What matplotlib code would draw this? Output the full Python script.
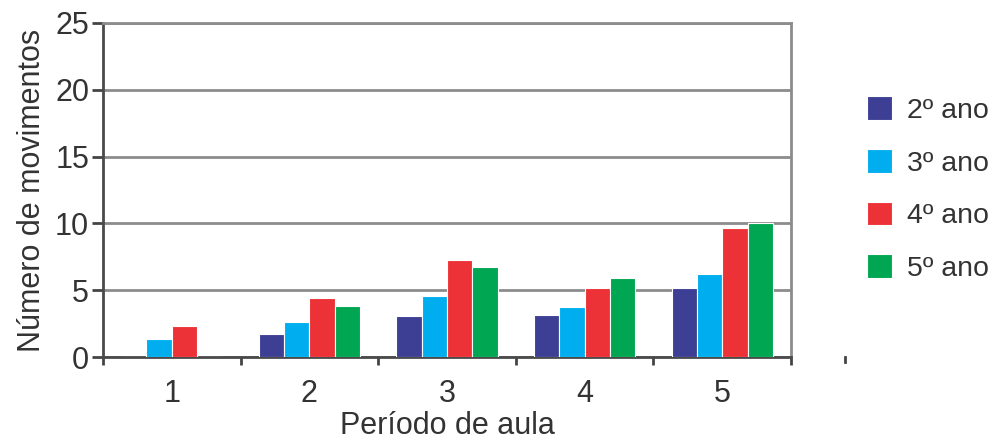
import numpy as np
import matplotlib.pyplot as plt

plt.rcParams['font.family'] = ['Liberation Sans', 'DejaVu Sans']

# Número de movimentos por período de aula e ano escolar
periodos = [1, 2, 3, 4, 5]
serie_labels = ['2º ano', '3º ano', '4º ano', '5º ano']
ano2 = [0.0, 1.75, 3.05, 3.15, 5.15]
ano3 = [1.35, 2.6, 4.55, 3.75, 6.2]
ano4 = [2.3, 4.4, 7.25, 5.15, 9.65]
ano5 = [0.0, 3.8, 6.7, 5.9, 10.0]
y_ticks = [0, 5, 10, 15, 20, 25]

cores = ['#3d3f94', '#00aeef', '#ed3237', '#00a651']
series = [ano2, ano3, ano4, ano5]

fig = plt.figure(figsize=(9.98, 4.44), dpi=100)
ax = fig.add_axes([103 / 998, 1 - 357 / 444, (791 - 103) / 998, (357 - 23) / 444])

x = np.array(periodos, dtype=float)
largura = 0.184
for i, (vals, cor, lab) in enumerate(zip(series, cores, serie_labels)):
    ax.bar(x + (i - 1.5) * largura, vals, width=largura, color=cor,
           edgecolor='white', linewidth=0.8, label=lab, zorder=3)

ax.set_xlim(0.5, 5.5)
ax.set_ylim(0, 25)

# grade horizontal cinza
ax.set_yticks(y_ticks)
ax.yaxis.grid(True, color='#8c8c8c', linewidth=2.0, zorder=0)
ax.set_axisbelow(True)

ax.set_xticks(x)
ax.set_xticklabels([str(p) for p in periodos])
ax.set_xticks(np.arange(0.5, 6.0, 1.0), minor=True)
ax.tick_params(axis='x', which='major', length=0, pad=16, labelsize=22, labelcolor='#333333')
ax.tick_params(axis='x', which='minor', length=6, width=2, color='#444444', direction='out')
ax.tick_params(axis='y', length=8, width=2, color='#444444', direction='out',
               labelsize=22, labelcolor='#333333', pad=2)

for lado in ['left', 'bottom']:
    ax.spines[lado].set_color('#4a4a4a')
    ax.spines[lado].set_linewidth(2.0)
for lado in ['top', 'right']:
    ax.spines[lado].set_color('#8c8c8c')
    ax.spines[lado].set_linewidth(2.0)

# pequeno traço isolado à direita do eixo x
ax.plot([5.89, 5.89], [0, -0.35], color='#444444', linewidth=2,
        clip_on=False, transform=ax.transData)

ax.set_xlabel('Período de aula', fontsize=22, color='#333333', labelpad=1)
ax.set_ylabel('Número de movimentos', fontsize=22, color='#333333', labelpad=6)

leg = ax.legend(loc='upper left', bbox_to_anchor=(1.0946, 0.815), frameon=False,
                fontsize=20.5, handlelength=0.85, handleheight=0.9,
                handletextpad=0.55, labelspacing=0.88, borderaxespad=0)
for t in leg.get_texts():
    t.set_color('#333333')

fig.savefig('out.png', dpi=100)
